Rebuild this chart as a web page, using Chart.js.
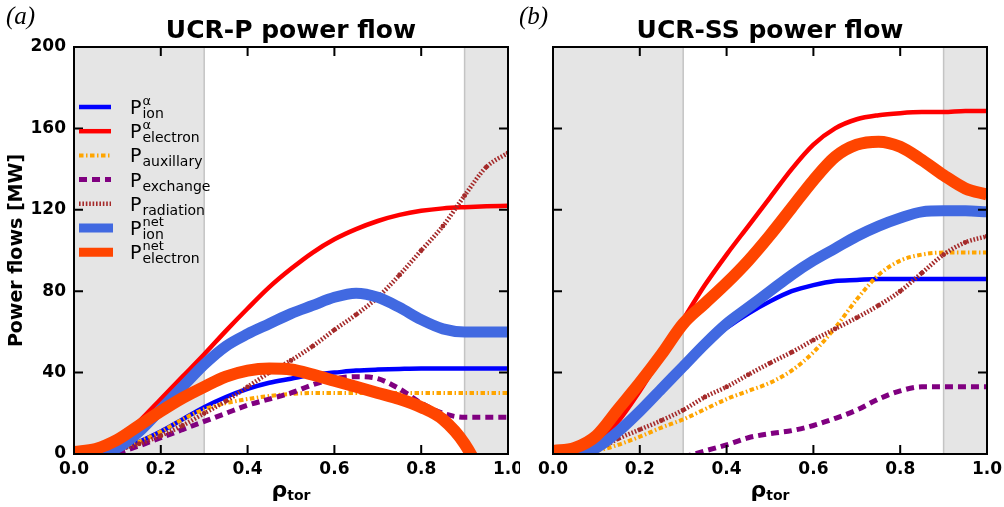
<!DOCTYPE html>
<html>
<head>
<meta charset="utf-8">
<script src="https://cdn.jsdelivr.net/npm/chart.js@4.4.0/dist/chart.umd.min.js"></script>
<style>
  body { margin: 0; background: #fff; }
  #wrap { position: relative; width: 1004px; height: 507px; }
  #chartA { position: absolute; left: 0; top: 0; }
  #chartB { position: absolute; left: 520px; top: 0; }
</style>
</head>
<body>
<div id="wrap">
  <canvas id="chartA" width="520" height="507"></canvas>
  <canvas id="chartB" width="484" height="507"></canvas>
</div>
<script>
// normalised toroidal radius
const rho = [0, 0.05, 0.1, 0.15, 0.2, 0.25, 0.3, 0.35, 0.4, 0.45, 0.5, 0.55, 0.6, 0.65, 0.7, 0.75, 0.8, 0.85, 0.9, 0.95, 1.0];

// (a) UCR-P, MW
const ionAlphaA  = [null, 0, 2, 6, 11, 17, 23, 28, 32, 35, 37, 39, 40, 41, 41.5, 41.8, 42, 42, 42, 42, 42];
const elecAlphaA = [null, 0.5, 6, 16, 27, 38, 49, 60.5, 71.5, 82, 91, 99, 105.5, 110.5, 114.5, 117.5, 119.5, 120.7, 121.3, 121.7, 122];
const auxA       = [null, 0, 2, 6, 11, 17, 22, 25, 27, 28.5, 29.5, 30, 30, 30, 30, 30, 30, 30, 30, 30, 30];
const exchA      = [null, null, 0.5, 4, 8, 12, 16, 20, 24, 27, 30, 34, 37, 38, 37, 32, 25, 20, 18, 18, 18];
const radA       = [null, 0, 2, 5, 9, 14, 20, 26, 33, 40, 46, 53, 61, 68.5, 77, 88, 100, 112, 127, 141, 148];
const ionNetA    = [null, 0, 3, 11, 22, 33, 44, 53, 59, 64, 69, 73, 77, 79, 77, 72, 66, 61.5, 60, 60, 60];
const elecNetA   = [1, 2.5, 7, 14, 21, 27.5, 33, 38, 41, 42, 41.5, 39, 36, 33, 30, 27, 23, 17, 5, -15, -40];

// (b) UCR-SS, MW
const ionAlphaB  = [null, 0, 3, 11, 22, 33, 44, 54, 62, 69, 75, 80, 83, 85, 85.5, 86, 86, 86, 86, 86, 86];
const elecAlphaB = [null, 0.5, 5, 16, 31, 48, 66, 83, 98, 112, 126, 140, 152, 160, 164.5, 166.5, 167.5, 168, 168, 168.5, 168.5];
const auxB       = [null, 0, 1.5, 4.5, 8.5, 13, 17, 22, 27, 31, 35, 41, 50, 62, 76, 88, 95, 98, 99, 99, 99];
const exchB      = [null, null, null, null, null, null, -1.5, 1.5, 4.5, 8, 10, 11.5, 14, 17.5, 21.6, 27, 31, 33, 33, 33, 33];
const radB       = [null, 0, 2, 7.5, 12, 16.5, 21.6, 28, 33, 39, 44.7, 50, 56, 61.5, 67, 73, 80, 89, 98, 104, 107];
const ionNetB    = [null, 0, 3, 11, 21, 32, 43, 54, 64, 72, 80, 88, 95, 101, 107, 112, 116, 119, 119.5, 119.5, 119];
const elecNetB   = [1.5, 3, 9, 22, 35, 49, 64, 74, 84, 95, 107.5, 121, 134.5, 146, 152, 153.5, 151, 144.5, 137, 130.5, 127.5];

const yTicks = [0, 40, 80, 120, 160, 200];
const xTicks = [0.0, 0.2, 0.4, 0.6, 0.8, 1.0];
const shaded = [[0, 0.3], [0.9, 1.0]];

const legendSub = ['ion', 'electron', 'auxillary', 'exchange', 'radiation', 'ion', 'electron'];
const legendSup = ['\u03b1', '\u03b1', '', '', '', 'net', 'net'];

const styles = [
  { color: '#0000ff', width: 4.5, dash: [] },
  { color: '#ff0000', width: 4.5, dash: [] },
  { color: '#ffa500', width: 4, dash: [4.5, 2.5, 1.5, 2.5] },
  { color: '#800080', width: 5, dash: [8, 5] },
  { color: '#a52a2a', width: 4.5, dash: [1.6, 1.8] },
  { color: '#4169e1', width: 11, dash: [] },
  { color: '#ff4500', width: 12, dash: [] }
];

const FONT = 'DejaVu Sans';

function makeDatasets(series) {
  return series.map((vals, i) => ({
    data: vals.map((v, j) => ({ x: rho[j], y: v })),
    borderColor: styles[i].color,
    backgroundColor: styles[i].color,
    borderWidth: styles[i].width,
    borderDash: styles[i].dash,
    pointRadius: i === 4 ? 2.4 : 0,
    pointBorderWidth: 0,
    cubicInterpolationMode: 'monotone',
    fill: false,
    clip: 0,
    order: series.length - i
  }));
}

const framePlugin = {
  id: 'frame',
  beforeDatasetsDraw(chart) {
    const { ctx, chartArea: a, scales: { x } } = chart;
    ctx.save();
    shaded.forEach(([s, e]) => {
      const x0 = x.getPixelForValue(s), x1 = x.getPixelForValue(e);
      ctx.fillStyle = '#e5e5e5';
      ctx.fillRect(x0, a.top, x1 - x0, a.bottom - a.top);
      ctx.strokeStyle = '#c4c4c4';
      ctx.lineWidth = 1.5;
      [x0, x1].forEach(px => {
        if (px > a.left + 1 && px < a.right - 1) {
          ctx.beginPath(); ctx.moveTo(px, a.top); ctx.lineTo(px, a.bottom); ctx.stroke();
        }
      });
    });
    ctx.restore();
  },
  afterDatasetsDraw(chart, args, opts) {
    const { ctx, chartArea: a, scales: { x, y } } = chart;
    ctx.save();
    ctx.strokeStyle = '#000';
    ctx.lineWidth = 2;
    ctx.setLineDash([]);
    ctx.beginPath();
    x.ticks.forEach(t => {
      const px = x.getPixelForValue(t.value);
      if (px <= a.left + 1 || px >= a.right - 1) return;
      ctx.moveTo(px, a.bottom); ctx.lineTo(px, a.bottom - 9);
      ctx.moveTo(px, a.top); ctx.lineTo(px, a.top + 9);
    });
    y.ticks.forEach(t => {
      const py = y.getPixelForValue(t.value);
      if (py <= a.top + 1 || py >= a.bottom - 1) return;
      ctx.moveTo(a.left, py); ctx.lineTo(a.left + 9, py);
      ctx.moveTo(a.right, py); ctx.lineTo(a.right - 9, py);
    });
    ctx.stroke();
    ctx.strokeRect(a.left, a.top, a.right - a.left, a.bottom - a.top);

    // x axis title: rho_tor
    ctx.fillStyle = '#000';
    ctx.textBaseline = 'alphabetic';
    ctx.font = 'bold 22px ' + FONT;
    const w1 = ctx.measureText('\u03c1').width;
    ctx.font = 'bold 14px ' + FONT;
    const w2 = ctx.measureText('tor').width;
    const cx = (a.left + a.right) / 2 - (w1 + w2) / 2;
    ctx.font = 'bold 22px ' + FONT;
    ctx.fillText('\u03c1', cx, 497);
    ctx.font = 'bold 14px ' + FONT;
    ctx.fillText('tor', cx + w1, 500);

    // panel letter
    ctx.font = 'italic 25px "Liberation Serif"';
    ctx.fillText(opts.letter, opts.letterX, 24);

    if (opts.legend) drawLegend(chart);
    ctx.restore();
  }
};

function drawLegend(chart) {
  const { ctx, chartArea: a } = chart;
  const x0 = a.left + 5, x1 = a.left + 37, tx = a.left + 56;
  legendSub.forEach((sub, i) => {
    const yy = a.top + 60 + i * 24.2;
    const st = styles[i];
    ctx.strokeStyle = st.color;
    ctx.lineWidth = i >= 5 ? 9 : st.width;
    ctx.setLineDash(st.dash);
    ctx.beginPath(); ctx.moveTo(x0, yy); ctx.lineTo(i >= 5 ? x1 + 2 : x1, yy); ctx.stroke();
    ctx.setLineDash([]);
    ctx.fillStyle = '#000';
    ctx.font = '19px ' + FONT;
    ctx.fillText('P', tx, yy + 7);
    const pw = ctx.measureText('P').width;
    ctx.font = '14px ' + FONT;
    ctx.fillText(sub, tx + pw + 1, yy + 11);
    if (legendSup[i]) {
      ctx.font = '13px ' + FONT;
      ctx.fillText(legendSup[i], tx + pw + 1, yy - 2);
    }
  });
}

function makeChart(id, title, series, isLeft) {
  const tickFont = { family: FONT, size: 17, weight: 'bold' };
  return new Chart(document.getElementById(id), {
    type: 'line',
    data: { datasets: makeDatasets(series) },
    plugins: [framePlugin],
    options: {
      responsive: false,
      animation: false,
      events: [],
      layout: { padding: { top: 0, right: isLeft ? 12 : 17, bottom: 0, left: 0 } },
      plugins: {
        legend: { display: false },
        tooltip: { enabled: false },
        title: {
          display: true,
          text: title,
          fullSize: false,
          color: '#000',
          font: { family: FONT, size: 25, weight: 'bold' },
          padding: { top: 16, bottom: 1 }
        },
        frame: { legend: isLeft, letter: isLeft ? '(a)' : '(b)', letterX: isLeft ? 6 : -1 }
      },
      scales: {
        x: {
          type: 'linear',
          min: xTicks[0],
          max: xTicks[xTicks.length - 1],
          afterBuildTicks: s => { s.ticks = xTicks.map(v => ({ value: v })); },
          ticks: { font: tickFont, color: '#000', padding: 5, maxRotation: 0, callback: v => v.toFixed(1) },
          grid: { display: false, drawTicks: false },
          border: { display: false },
          afterFit: s => { s.height = 53; s.paddingLeft = 0; s.paddingRight = 0; }
        },
        y: {
          min: yTicks[0],
          max: yTicks[yTicks.length - 1],
          afterBuildTicks: s => { s.ticks = yTicks.map(v => ({ value: v })); },
          ticks: { display: isLeft, font: tickFont, color: '#000', padding: 8 },
          title: {
            display: isLeft,
            text: 'Power flows [MW]',
            color: '#000',
            font: { family: FONT, size: 19, weight: 'bold' },
            padding: { top: 6, bottom: 0 }
          },
          grid: { display: false, drawTicks: false },
          border: { display: false },
          afterFit: s => { s.width = isLeft ? 74 : 33; s.paddingTop = 0; s.paddingBottom = 0; }
        }
      }
    }
  });
}

makeChart('chartA', 'UCR-P power flow',
  [ionAlphaA, elecAlphaA, auxA, exchA, radA, ionNetA, elecNetA], true);
makeChart('chartB', 'UCR-SS power flow',
  [ionAlphaB, elecAlphaB, auxB, exchB, radB, ionNetB, elecNetB], false);
</script>
</body>
</html>
